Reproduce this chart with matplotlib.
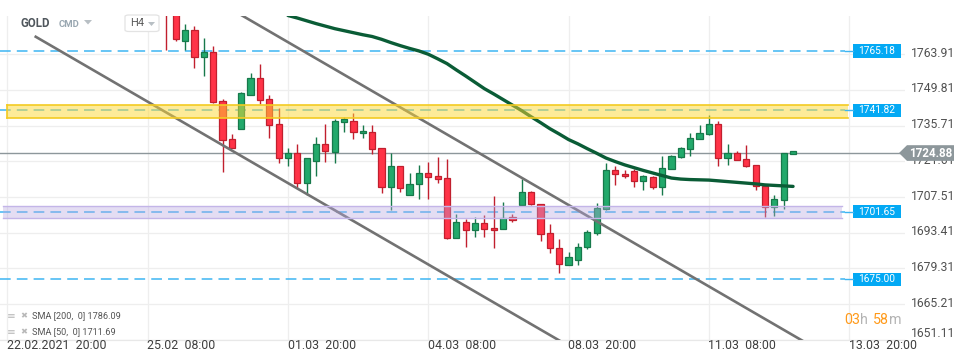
import matplotlib
matplotlib.use("Agg")
import matplotlib.pyplot as plt
import matplotlib.patches as mpatches
import matplotlib.transforms as mtransforms
import numpy as np

plt.rcParams['font.family'] = ['Roboto', 'DejaVu Sans']

# ---------------- data ----------------
symbol = "GOLD"
symbol_type = "CMD"
timeframe = "H4"

first_index = 17  # candle index of first listed candle (index 0 = 22.02.2021 20:00)
opens = [1787.0, 1780.5, 1769.0, 1773.5, 1762.7, 1764.7, 1745.3, 1730.3, 1734.3, 1747.7,
         1754.4, 1746.1, 1736.2, 1723.0, 1724.9, 1712.9, 1721.6, 1728.3, 1725.4, 1737.0,
         1737.4, 1732.7, 1733.1, 1726.8, 1711.4, 1719.7, 1708.2, 1712.5, 1716.9, 1715.7,
         1714.9, 1691.2, 1697.5, 1694.4, 1697.1, 1695.1, 1694.8, 1699.5, 1704.2, 1709.4,
         1704.6, 1693.2, 1687.3, 1680.6, 1682.5, 1687.7, 1693.2, 1702.7, 1718.1, 1716.5,
         1717.7, 1713.7, 1715.3, 1711.4, 1718.5, 1723.2, 1726.4, 1730.3, 1732.3, 1736.2,
         1722.8, 1724.8, 1722.4, 1720.0, 1711.7, 1703.4, 1706.2, 1724.4]
highs = [1790.0, 1783.0, 1775.8, 1775.1, 1770.3, 1767.2, 1746.2, 1732.4, 1749.0, 1756.5,
         1760.0, 1747.8, 1742.7, 1726.9, 1728.5, 1722.8, 1731.2, 1736.4, 1738.3, 1739.2,
         1740.6, 1736.0, 1736.0, 1726.8, 1724.8, 1719.7, 1716.9, 1720.2, 1721.3, 1723.2,
         1722.4, 1700.7, 1698.7, 1699.5, 1700.3, 1707.9, 1705.4, 1700.7, 1714.6, 1709.8,
         1704.6, 1696.9, 1690.8, 1685.7, 1689.2, 1694.4, 1705.0, 1720.8, 1719.8, 1718.1,
         1718.5, 1716.1, 1715.7, 1723.7, 1724.1, 1727.1, 1732.7, 1735.8, 1739.9, 1737.4,
         1728.5, 1725.6, 1727.9, 1720.0, 1711.7, 1708.2, 1724.8, 1725.6]
lows = [1765.6, 1769.3, 1765.6, 1758.3, 1755.4, 1744.6, 1717.5, 1726.8, 1734.3, 1747.7,
        1744.1, 1730.9, 1721.1, 1719.9, 1711.0, 1708.3, 1715.9, 1721.5, 1720.8, 1733.3,
        1730.3, 1730.9, 1724.4, 1709.0, 1702.4, 1709.6, 1708.2, 1706.8, 1706.6, 1712.9,
        1690.8, 1691.2, 1687.6, 1691.8, 1691.6, 1687.5, 1694.8, 1697.5, 1704.2, 1704.2,
        1690.0, 1685.3, 1677.4, 1680.6, 1680.5, 1686.9, 1692.4, 1702.3, 1712.1, 1714.9,
        1711.4, 1710.2, 1710.6, 1708.4, 1718.5, 1722.8, 1723.6, 1730.3, 1731.9, 1719.7,
        1720.0, 1722.0, 1719.2, 1710.2, 1699.5, 1699.9, 1702.7, 1724.4]
closes = [1780.5, 1769.8, 1773.5, 1762.7, 1764.7, 1744.9, 1729.9, 1726.8, 1748.5, 1754.4,
          1745.7, 1735.9, 1722.8, 1724.9, 1712.9, 1722.8, 1728.3, 1725.6, 1737.4, 1738.3,
          1733.1, 1733.5, 1726.4, 1711.4, 1719.7, 1711.0, 1712.5, 1716.9, 1715.3, 1714.5,
          1691.2, 1697.5, 1694.4, 1697.1, 1694.8, 1694.4, 1699.1, 1698.3, 1709.4, 1704.6,
          1692.8, 1687.3, 1681.0, 1683.7, 1687.9, 1693.6, 1703.1, 1718.1, 1716.5, 1715.7,
          1713.7, 1715.7, 1711.4, 1718.9, 1723.6, 1726.8, 1730.7, 1732.7, 1736.2, 1722.8,
          1724.8, 1722.0, 1719.6, 1711.7, 1703.4, 1706.6, 1724.8, 1725.5]

sma50_start = 30
sma50 = [1779.2, 1778.2, 1777.1, 1776.0, 1775.0, 1774.0, 1773.2, 1772.4, 1771.6, 1770.9,
         1769.8, 1768.5, 1767.3, 1766.2, 1765.2, 1763.9, 1762.1, 1760.2, 1757.7, 1755.3,
         1752.8, 1750.3, 1748.2, 1746.0, 1743.8, 1741.6, 1739.2, 1736.9, 1734.5, 1732.4,
         1730.2, 1728.5, 1726.6, 1724.8, 1722.9, 1721.5, 1720.2, 1719.1, 1718.0, 1717.0,
         1716.0, 1715.0, 1714.6, 1714.4, 1714.3, 1714.2, 1713.9, 1713.6, 1713.3, 1713.0,
         1712.7, 1712.3, 1712.1, 1711.9, 1711.7]

sma_legend = ["SMA [200,  0] 1786.09", "SMA [50,  0] 1711.69"]

blue_levels = [1765.18, 1675.00]
yellow_zone = [1738.6, 1743.7]
yellow_level = 1741.82
purple_zone = [1699.1, 1703.9]
purple_level = 1701.65
current_price = 1724.88

channel_lower_x = [3.03, 59.5]
channel_lower_y = [1770.8, 1649.8]
channel_upper_x = [20.0, 85.5]
channel_upper_y = [1790.1, 1649.7]

xtick_positions = [0, 15, 30, 45, 60, 75, 90]
xtick_labels = ['22.02.2021  20:00', '25.02  08:00', '01.03  20:00', '04.03  08:00',
                '08.03  20:00', '11.03  08:00', '13.03  20:00']
ytick_values = [1651.11, 1665.21, 1679.31, 1693.41, 1707.51, 1721.61, 1735.71, 1749.81, 1763.91]

timer_parts = ["03", "h", "58", "m"]

# ---------------- figure ----------------
W, H = 970, 364
fig = plt.figure(figsize=(W / 100, H / 100), dpi=100)
fig.patch.set_facecolor('white')

ax_left, ax_right, ax_top, ax_bottom = 0, 905, 16, 339.5
ax = fig.add_axes([ax_left / W, 1 - ax_bottom / H, (ax_right - ax_left) / W, (ax_bottom - ax_top) / H])
ax.set_xlim(-0.791, 95.97)
ax.set_ylim(1651.24, 1779.0)
for s in ['top', 'left', 'right']:
    ax.spines[s].set_visible(False)
ax.spines['bottom'].set_color('#e8e8e8')
ax.spines['bottom'].set_linewidth(0.9)
ax.set_xticks([])
ax.set_yticks([])

# grid
for v in ytick_values:
    ax.axhline(v, color='#eeeeee', lw=0.9, zorder=0)
for xp in xtick_positions:
    ax.axvline(xp, color='#eeeeee', lw=0.9, zorder=0)

BLUE = '#3db5f2'
x_end_line = 89.55
# dashed levels
for lv in blue_levels + [yellow_level, purple_level]:
    ax.plot([-0.8, x_end_line], [lv, lv], color=BLUE, lw=1.1, dashes=(7, 4), zorder=1)

# current price line
ax.plot([-0.8, 95.97], [current_price, current_price], color='#8d979b', lw=1.0, zorder=1.5)

# candles
n = len(opens)
idx = np.arange(first_index, first_index + n)
o = np.array(opens); c = np.array(closes); hi = np.array(highs); lo = np.array(lows)
up = c >= o
G_FILL, G_EDGE = '#22a96b', '#17794b'
R_FILL, R_EDGE = '#ff3347', '#c11f2e'
ax.vlines(idx[up], lo[up], hi[up], color=G_EDGE, lw=1.0, zorder=2)
ax.vlines(idx[~up], lo[~up], hi[~up], color=R_EDGE, lw=1.0, zorder=2)
bottoms = np.minimum(o, c)
heights = np.maximum(np.abs(c - o), 0.4)
ax.bar(idx[up], heights[up], bottom=bottoms[up], width=0.66, color=G_FILL,
       edgecolor=G_EDGE, linewidth=0.9, zorder=3)
ax.bar(idx[~up], heights[~up], bottom=bottoms[~up], width=0.66, color=R_FILL,
       edgecolor=R_EDGE, linewidth=0.9, zorder=3)

# SMA 50
sma_x = np.arange(sma50_start, sma50_start + len(sma50))
ax.plot(sma_x, sma50, color='#0a5c36', lw=2.4, zorder=4, solid_capstyle='round')

# channel lines
ax.plot(channel_lower_x, channel_lower_y, color='#727272', lw=1.9, zorder=4.5)
ax.plot(channel_upper_x, channel_upper_y, color='#727272', lw=1.9, zorder=4.5)

# zones (drawn over candles, semi-transparent)
ax.fill_between([-0.04, 89.9], yellow_zone[0], yellow_zone[1], color='#fdd835', alpha=0.5,
                lw=0, zorder=5)
for b in yellow_zone:
    ax.plot([-0.04, 89.9], [b, b], color='#f3cb22', lw=1.2, zorder=5.1)
ax.plot([-0.04, -0.04], yellow_zone, color='#f3cb22', lw=1.2, zorder=5.1)
ax.fill_between([-0.5, 89.2], purple_zone[0], purple_zone[1], color='#b8a8e0', alpha=0.38,
                lw=0, zorder=5)
for b in purple_zone:
    ax.plot([-0.5, 89.2], [b, b], color='#c3b5e8', lw=1.0, zorder=5.1)

# ---------------- right-side labels ----------------
bt = mtransforms.blended_transform_factory(fig.transFigure, ax.transData)

def fx(px):
    return px / W

for lv in blue_levels + [yellow_level, purple_level]:
    fig.add_artist(plt.Line2D([fx(845), fx(853)], [lv, lv], color=BLUE, lw=1.0, transform=bt))
    rect = mpatches.Rectangle((fx(853), lv - 2.6), fx(48), 5.2, transform=bt,
                              facecolor='#03a9f4', edgecolor='none')
    fig.add_artist(rect)
    fig.text(fx(877), lv, f"{lv:.2f}", transform=bt, ha='center', va='center',
             color='white', fontsize=7.3)

# y tick labels
yt = ax.get_yaxis_transform()
for v in ytick_values:
    if v == min(ytick_values):
        ax.text(1.0066, v, f"{v:.2f}", transform=yt, ha='left', va='bottom',
                fontsize=8.7, color='#505050', clip_on=False)
    else:
        ax.text(1.0066, v + 0.4, f"{v:.2f}", transform=yt, ha='left', va='center',
                fontsize=8.7, color='#505050', clip_on=False)

# current price tag
cp = current_price
tag = mpatches.Polygon([(fx(899), cp), (fx(907), cp + 3.1), (fx(954), cp + 3.1),
                        (fx(954), cp - 3.1), (fx(907), cp - 3.1)], closed=True,
                       transform=bt, facecolor='#8d979b', edgecolor='none', zorder=3)
fig.add_artist(tag)
fig.text(fx(931), cp, f"{cp:.2f}", transform=bt, ha='center', va='center',
         color='white', fontsize=8.4, fontweight='bold', zorder=4)

# x tick labels
xt = ax.get_xaxis_transform()
for p, lab in zip(xtick_positions, xtick_labels):
    ax.text(p - 0.05, -6.0 / (ax_bottom - ax_top), lab, transform=xt, ha='left', va='center',
            fontsize=8.9, color='#3f3f3f', clip_on=False)

# ---------------- header ----------------
def fy(py):
    return 1 - py / H

fig.text(fx(21), fy(23.5), symbol, fontsize=8.3, fontweight='bold', color='#50575d',
         ha='left', va='center')
fig.text(fx(59), fy(24.5), symbol_type, fontsize=6.8, fontweight='bold', color='#99a7b1',
         ha='left', va='center')
fig.add_artist(mpatches.Polygon([(fx(84), fy(20)), (fx(92), fy(20)), (fx(88), fy(24.5))],
                                closed=True, transform=fig.transFigure,
                                facecolor='#b8bfc4', edgecolor='none'))
fig.add_artist(mpatches.FancyBboxPatch((fx(125), fy(31.5)), fx(34), 16.5 / H,
                                       boxstyle='round,pad=0,rounding_size=0.004',
                                       transform=fig.transFigure, facecolor='white',
                                       edgecolor='#e3e3e3', lw=0.9))
fig.text(fx(130), fy(23.5), timeframe, fontsize=8.0, color='#5a5a5a', ha='left', va='center')
fig.add_artist(mpatches.Polygon([(fx(148), fy(22)), (fx(155), fy(22)), (fx(151.5), fy(26))],
                                closed=True, transform=fig.transFigure,
                                facecolor='#b8bfc4', edgecolor='none'))

# ---------------- SMA legend ----------------
for k, txt in enumerate(sma_legend):
    yy = 315.5 + k * 16.5
    fig.text(fx(7), fy(yy), "\u2261", fontsize=7.5, color='#b9b9b9', ha='left', va='center',
             family=['DejaVu Sans'])
    fig.text(fx(20.5), fy(yy), "\u2716", fontsize=6.0, color='#b9b9b9', ha='left', va='center',
             family=['DejaVu Sans'])
    fig.text(fx(32), fy(yy), txt, fontsize=6.6, color='#555555', ha='left', va='center')

# ---------------- timer ----------------
timer_x = [844, 860.5, 872.5, 889.5]
timer_colors = ['#ff9a1a', '#b3b3b3', '#ff9a1a', '#b3b3b3']
for part, px, col in zip(timer_parts, timer_x, timer_colors):
    fig.text(fx(px), fy(319.5), part, fontsize=10.3, color=col, ha='left', va='center')

fig.savefig('out.png', dpi=100)
